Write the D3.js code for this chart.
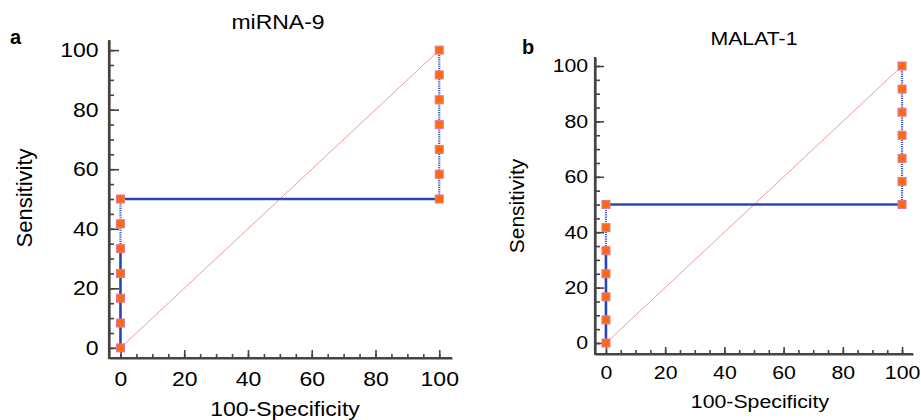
<!DOCTYPE html>
<html>
<head>
<meta charset="utf-8">
<script src="https://cdn.jsdelivr.net/npm/d3@7"></script>
<style>
  body { margin: 0; background: #fff; }
  text { font-family: "Liberation Sans", Arial, sans-serif; fill: #000; }
</style>
</head>
<body>
<script>
// Data: ROC points (100-Specificity, Sensitivity)
const mirnaFpr  = [0, 0, 0, 0, 0, 0, 0, 100, 100, 100, 100, 100, 100, 100];
const mirnaSens = [0, 8.33, 16.67, 25, 33.33, 41.67, 50, 50, 58.33, 66.67, 75, 83.33, 91.67, 100];
const malatFpr  = [0, 0, 0, 0, 0, 0, 0, 100, 100, 100, 100, 100, 100, 100];
const malatSens = [0, 8.33, 16.67, 25, 33.33, 41.67, 50, 50, 58.33, 66.67, 75, 83.33, 91.67, 100];
const majorTicks = [0, 20, 40, 60, 80, 100];
const minorTicks = d3.range(0, 101, 5);

const width = 921, height = 420;
const svg = d3.select("body").append("svg")
    .attr("width", width)
    .attr("height", height)

const stretch = 1.15; // source image is a bit wider than tall

function drawPanel(cfg) {
    const pts = cfg.fpr.map((f, i) => ({x: f, y: cfg.sens[i]}));
    let xScale = d3.scaleLinear().domain(cfg.xDom).range([cfg.left, cfg.right]);
    let yScale = d3.scaleLinear().domain(cfg.yDom).range([cfg.bottom, cfg.top]);
    const g = svg.append("g");

    // minor ticks
    g.append("g")
        .attr("transform", `translate(0, ${cfg.bottom})`)
        .call(d3.axisBottom(xScale).tickValues(minorTicks).tickSizeInner(-cfg.minor).tickSizeOuter(0).tickFormat(""))
    g.append("g")
        .attr("transform", `translate(${cfg.left}, 0)`)
        .call(d3.axisLeft(yScale).tickValues(minorTicks).tickSizeInner(-cfg.minor - 1).tickSizeOuter(0).tickFormat(""))
    // major ticks with labels
    let xa = g.append("g")
        .attr("transform", `translate(0, ${cfg.bottom})`)
        .call(d3.axisBottom(xScale).tickValues(majorTicks).tickSizeInner(-cfg.major).tickSizeOuter(0).tickPadding(cfg.xPad))
    let ya = g.append("g")
        .attr("transform", `translate(${cfg.left}, 0)`)
        .call(d3.axisLeft(yScale).tickValues(majorTicks).tickSizeInner(-cfg.major - 2).tickSizeOuter(0).tickPadding(cfg.yPad))
    g.selectAll(".domain").attr("stroke", "#444").attr("stroke-width", 2.2)
    g.selectAll(".tick line").attr("stroke", "#444").attr("stroke-width", 1.6)
    g.selectAll(".tick text")
        .style("font-size", cfg.fs + "px")
        .attr("fill", "#000")
        .attr("transform", `scale(${stretch},1)`)
    // extend domains a touch so the axes meet
    xa.select(".domain").attr("d", `M${cfg.left - 1},0H${cfg.right}`)
    ya.select(".domain").attr("d", `M0,${cfg.bottom + 1}V${cfg.top}`)

    // reference diagonal
    g.append("line")
        .attr("x1", xScale(0)).attr("y1", yScale(0))
        .attr("x2", xScale(100)).attr("y2", yScale(100))
        .attr("stroke", "#f28a8a").attr("stroke-width", 1)
        .attr("opacity", 0.85)

    // ROC curve: solid and dotted parts
    const solid = [[pts[0], pts[4]], [pts[6], pts[7]]];
    const dotted = [[pts[4], pts[6]], [pts[7], pts[13]]];
    g.selectAll(".dot-seg").data(dotted).enter()
        .append("line")
        .attr("class", "dot-seg")
        .attr("x1", d => xScale(d[0].x)).attr("y1", d => yScale(d[0].y))
        .attr("x2", d => xScale(d[1].x)).attr("y2", d => yScale(d[1].y))
        .attr("stroke", "#3f5cc4").attr("stroke-width", 2.2)
        .attr("stroke-dasharray", "1.2,1")
    g.selectAll(".solid-seg").data(solid).enter()
        .append("line")
        .attr("class", "solid-seg")
        .attr("x1", d => xScale(d[0].x)).attr("y1", d => yScale(d[0].y))
        .attr("x2", d => xScale(d[1].x)).attr("y2", d => yScale(d[1].y))
        .attr("stroke", "#2848b0").attr("stroke-width", 2.6)

    // points
    const s = 8;
    g.selectAll(".pt").data(pts).enter()
        .append("rect")
        .attr("class", "pt")
        .attr("x", d => xScale(d.x) - s / 2)
        .attr("y", d => yScale(d.y) - s / 2)
        .attr("width", s).attr("height", s)
        .attr("fill", "#ff6a0a")
        .attr("stroke", "#e0789e").attr("stroke-width", 1)

    // texts
    svg.append("text")
        .attr("transform", `translate(${cfg.titleX}, ${cfg.titleY}) scale(${stretch},1)`)
        .attr("text-anchor", "middle")
        .style("font-size", cfg.fs + "px")
        .text(cfg.title)
    svg.append("text")
        .attr("transform", `translate(${cfg.xlabX}, ${cfg.xlabY}) scale(${stretch},1)`)
        .attr("text-anchor", "middle")
        .style("font-size", cfg.fs + "px")
        .text("100-Specificity")
    svg.append("text")
        .attr("transform", `translate(${cfg.ylabX}, ${cfg.ylabY}) rotate(-90)`)
        .attr("text-anchor", "middle")
        .style("font-size", cfg.ylabFs + "px")
        .text("Sensitivity")
    svg.append("text")
        .attr("x", cfg.letterX).attr("y", cfg.letterY)
        .style("font-size", "20px")
        .style("font-weight", "bold")
        .text(cfg.letter)
}

drawPanel({
    fpr: mirnaFpr, sens: mirnaSens, title: "miRNA-9", letter: "a",
    left: 109, right: 452, top: 40, bottom: 358,
    xDom: [-3.6, 104], yDom: [-3.4, 103.4],
    major: 8, minor: 4, xPad: 14, yPad: 9, fs: 20,
    titleX: 278, titleY: 29, xlabX: 285, xlabY: 416,
    ylabX: 32, ylabY: 198, ylabFs: 22,
    letterX: 10, letterY: 44
})

drawPanel({
    fpr: malatFpr, sens: malatSens, title: "MALAT-1", letter: "b",
    left: 595, right: 913, top: 57, bottom: 354,
    xDom: [-3.7, 103.7], yDom: [-3.97, 103.25],
    major: 7, minor: 4, xPad: 12, yPad: 6, fs: 18.5,
    titleX: 754, titleY: 45, xlabX: 760, xlabY: 408,
    ylabX: 524, ylabY: 206, ylabFs: 21,
    letterX: 522, letterY: 54
})
</script>
</body>
</html>
